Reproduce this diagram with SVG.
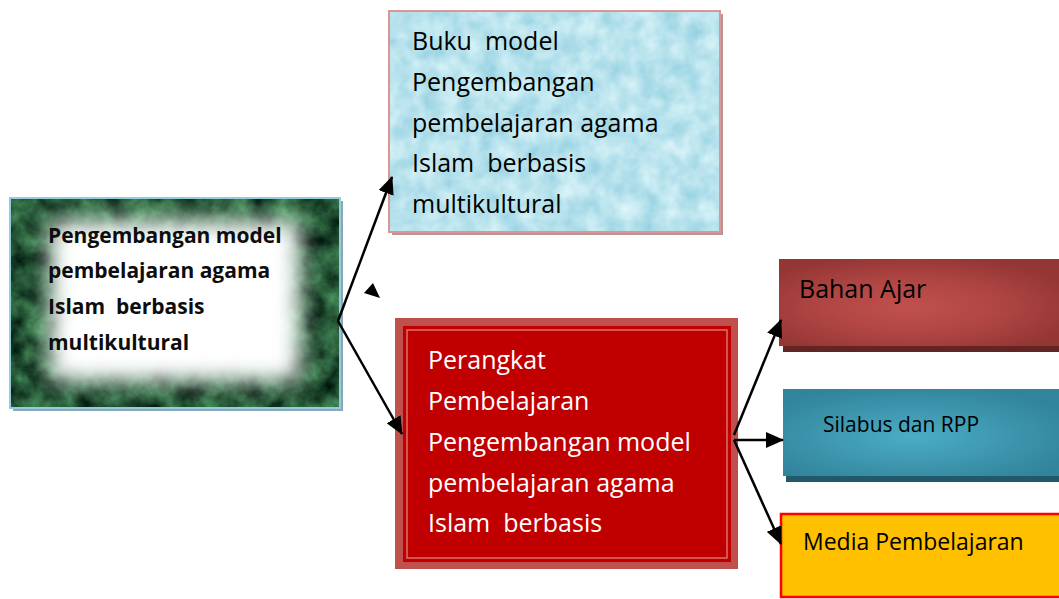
<svg xmlns="http://www.w3.org/2000/svg" width="1059" height="599" viewBox="0 0 1059 599">
<style>
text{font-family:"Open Sans","Liberation Sans",sans-serif;white-space:pre}
.g{font-size:21px;font-weight:bold;fill:#0d0d0d}
.b{font-size:25px;fill:#000}
.r{font-size:25px;fill:#fff}
.conn line{stroke:#000;stroke-width:2.5}
</style>
<defs>
<filter id="marble" x="0" y="0" width="100%" height="100%" color-interpolation-filters="sRGB">
<feTurbulence type="fractalNoise" baseFrequency="0.04" numOctaves="4" seed="7" result="n"/>
<feColorMatrix in="n" type="matrix" values="0.45 0 0 0 -0.08  0.75 0 0 0 -0.04  0.5 0 0 0 -0.04  0 0 0 0 1" result="c"/>
<feComposite in="c" in2="SourceGraphic" operator="in"/>
</filter>
<filter id="water" x="0" y="0" width="100%" height="100%" color-interpolation-filters="sRGB">
<feTurbulence type="fractalNoise" baseFrequency="0.05" numOctaves="3" seed="4" result="n"/>
<feColorMatrix in="n" type="matrix" values="0.35 0 0 0 0.55  0.18 0 0 0 0.80  0.12 0 0 0 0.87  0 0 0 0 1" result="c"/>
<feComposite in="c" in2="SourceGraphic" operator="in"/>
</filter>
<filter id="soft" x="-30%" y="-30%" width="160%" height="160%" color-interpolation-filters="sRGB">
<feGaussianBlur stdDeviation="11"/>
</filter>
<radialGradient id="gRed" cx="0.45" cy="0.55" r="0.6">
<stop offset="0" stop-color="#c0504d"/>
<stop offset="0.5" stop-color="#b04644"/>
<stop offset="1" stop-color="#943634"/>
</radialGradient>
<radialGradient id="gBlue" cx="0.45" cy="0.55" r="0.6">
<stop offset="0" stop-color="#4bacc6"/>
<stop offset="0.5" stop-color="#3e98b0"/>
<stop offset="1" stop-color="#31849b"/>
</radialGradient>
<marker id="ah" markerUnits="userSpaceOnUse" markerWidth="18" markerHeight="16" viewBox="0 0 18 16" refX="17" refY="8" orient="auto">
<path d="M0,0 L18,8 L0,16 Z" fill="#000"/>
</marker>
</defs>

<g id="node-green">
<rect x="13" y="201" width="330" height="210" fill="#8ca6b8"/>
<rect x="10" y="198" width="330" height="210" fill="#2f6b3f" filter="url(#marble)"/>
<rect x="50" y="221" width="250" height="160" fill="#fff" filter="url(#soft)"/>
<rect x="10" y="198" width="330" height="210" fill="none" stroke="#92cddc" stroke-width="2"/>
<text class="g" x="48" y="243">Pengembangan model</text>
<text class="g" x="48" y="278">pembelajaran agama</text>
<text class="g" x="48" y="314">Islam  berbasis</text>
<text class="g" x="48" y="350">multikultural</text>
</g>

<g id="node-buku">
<rect x="392" y="14" width="331" height="221" fill="#b99595"/>
<rect x="389" y="11" width="331" height="221" fill="#bfe6ee" filter="url(#water)"/>
<rect x="389" y="11" width="331" height="221" fill="none" stroke="#d99694" stroke-width="2"/>
<text class="b" x="412" y="50">Buku  model</text>
<text class="b" x="412" y="91">Pengembangan</text>
<text class="b" x="412" y="132">pembelajaran agama</text>
<text class="b" x="412" y="172">Islam  berbasis</text>
<text class="b" x="412" y="213">multikultural</text>
</g>

<g id="node-perangkat">
<rect x="395" y="318" width="343" height="251" fill="#c0504d"/>
<rect x="403" y="326" width="328" height="236" fill="#c00000"/>
<rect x="407" y="330" width="320" height="228" fill="none" stroke="#d9706c" stroke-width="1.5"/>
<text class="r" x="428" y="369">Perangkat</text>
<text class="r" x="428" y="410">Pembelajaran</text>
<text class="r" x="428" y="451">Pengembangan model</text>
<text class="r" x="428" y="492">pembelajaran agama</text>
<text class="r" x="428" y="532">Islam  berbasis</text>
</g>

<g id="node-bahan">
<rect x="783" y="263" width="290" height="89" fill="#632523"/>
<rect x="779" y="259" width="290" height="87" fill="url(#gRed)"/>
<text class="b" x="799" y="298">Bahan Ajar</text>
</g>

<g id="node-silabus">
<rect x="786" y="393" width="290" height="89" fill="#215968"/>
<rect x="783" y="389" width="290" height="87" fill="url(#gBlue)"/>
<text x="823" y="432" style="font-size:21px;fill:#000">Silabus dan RPP</text>
</g>

<g id="node-media">
<rect x="781" y="514" width="290" height="83" fill="#ffc000" stroke="#ff0000" stroke-width="2.5"/>
<text x="803" y="550" style="font-size:23px;fill:#000">Media Pembelajaran</text>
</g>

<g id="connectors" class="conn">
<line x1="338" y1="321" x2="392" y2="177" marker-end="url(#ah)"/>
<line x1="338" y1="321" x2="402" y2="434" marker-end="url(#ah)"/>
<polygon points="373,283 364,293 380,298" fill="#000"/>
<line x1="734" y1="435" x2="781" y2="320" marker-end="url(#ah)"/>
<line x1="734" y1="440" x2="783" y2="440" marker-end="url(#ah)"/>
<line x1="734" y1="440" x2="781" y2="544" marker-end="url(#ah)"/>
</g>
</svg>
